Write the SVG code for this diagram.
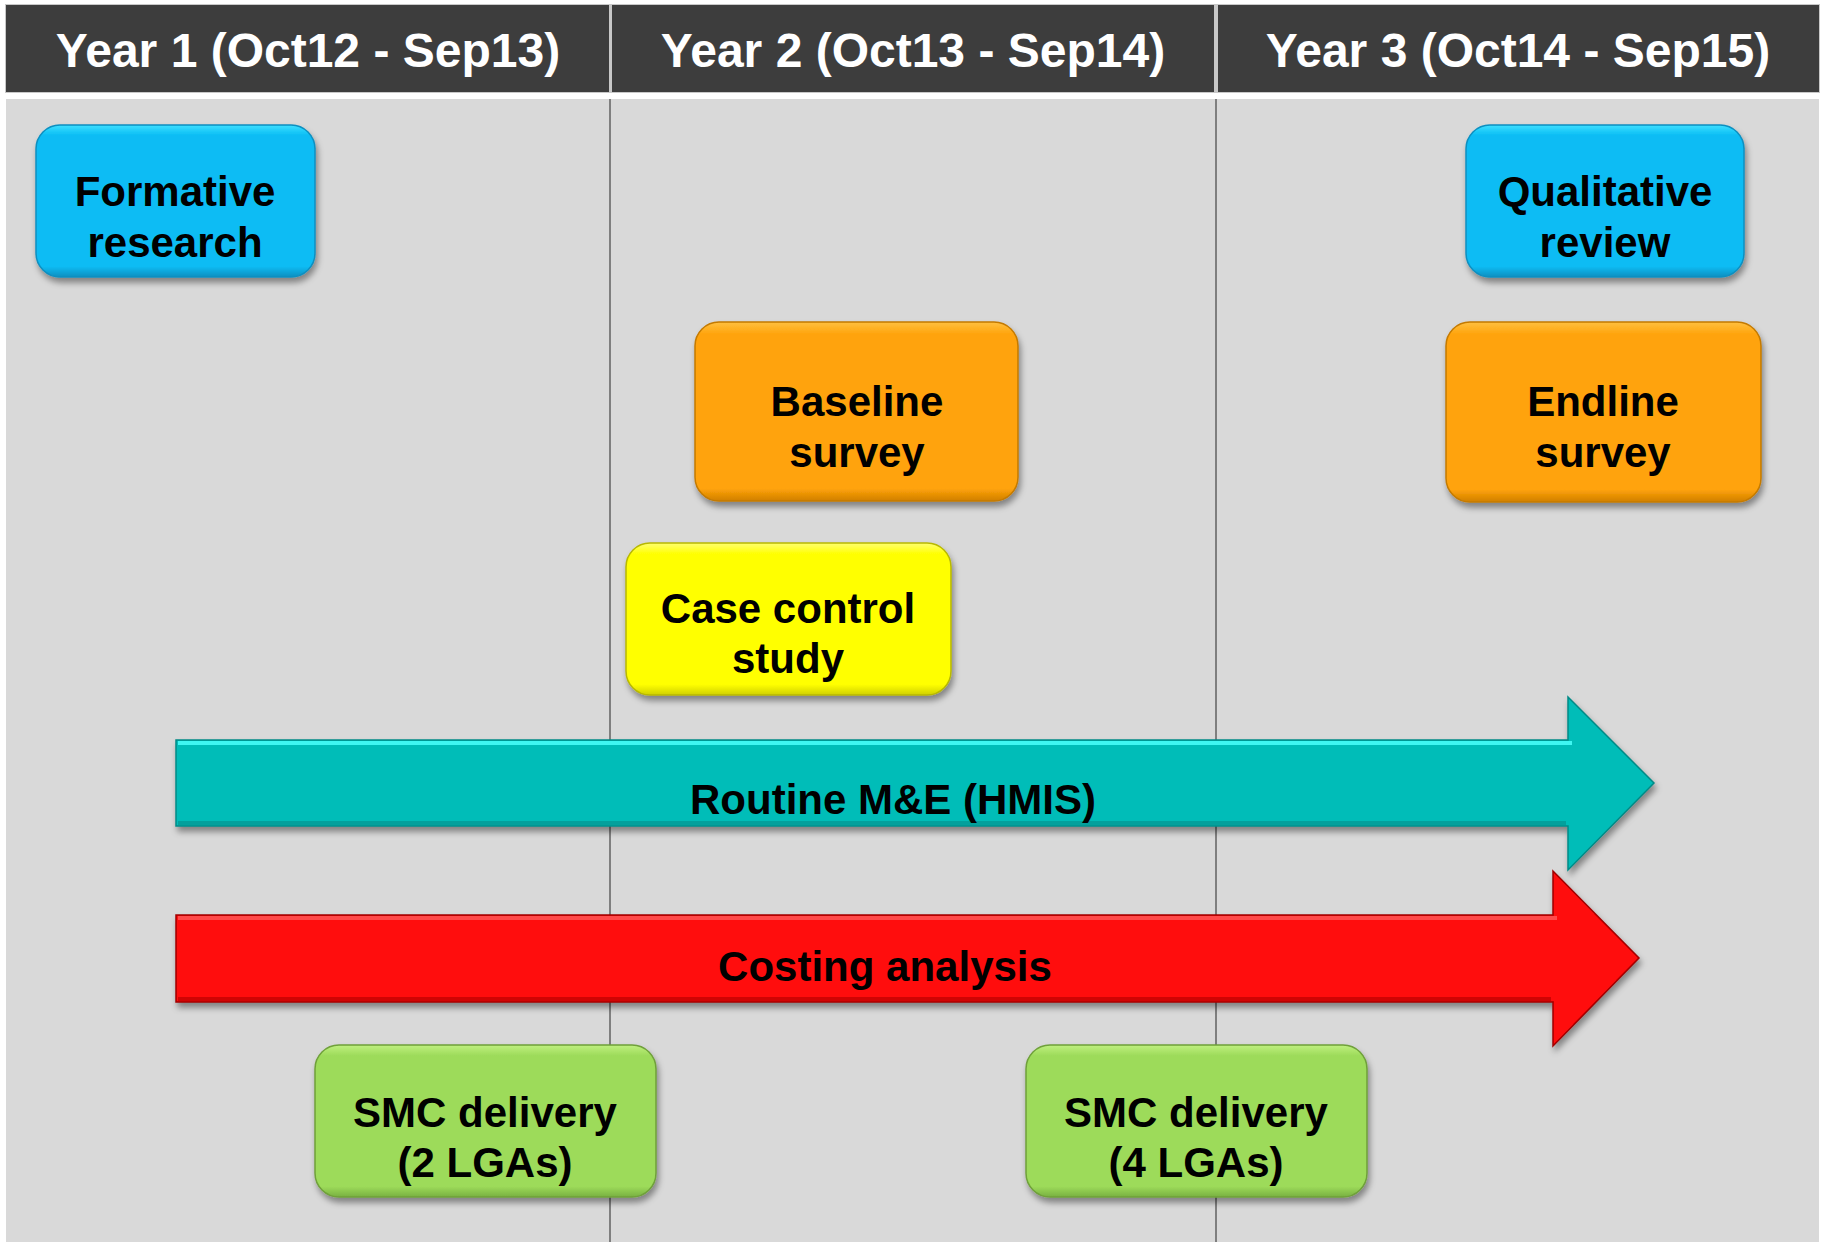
<svg xmlns="http://www.w3.org/2000/svg" width="1825" height="1243" viewBox="0 0 1825 1243">
<defs>
<style>
.hdr{fill:#3d3d3d;}
.hdrtxt{font-family:"Liberation Sans",Arial,sans-serif;font-weight:bold;font-size:48px;fill:#ffffff;text-anchor:middle;}
.lbl{font-family:"Liberation Sans",Arial,sans-serif;font-weight:bold;font-size:42px;fill:#000000;text-anchor:middle;}
.grid{stroke:#7f7f7f;stroke-width:2;}
.box{filter:url(#shadow);stroke-width:1.5;}
.hl{fill:none;stroke-width:4;stroke-linecap:butt;}
</style>
<filter id="shadow" x="-10%" y="-10%" width="125%" height="135%">
<feDropShadow dx="2" dy="5" stdDeviation="3" flood-color="#000" flood-opacity="0.4"/>
</filter>
<linearGradient id="gCyan" x1="0" y1="0" x2="0" y2="1">
<stop offset="0" stop-color="#3fe0ff"/><stop offset="0.07" stop-color="#08bcf4"/><stop offset="0.93" stop-color="#08bcf4"/><stop offset="1" stop-color="#0a8fc0"/>
</linearGradient>
<linearGradient id="gOrange" x1="0" y1="0" x2="0" y2="1">
<stop offset="0" stop-color="#ffc040"/><stop offset="0.07" stop-color="#ffa30a"/><stop offset="0.93" stop-color="#ffa30a"/><stop offset="1" stop-color="#d07f00"/>
</linearGradient>
<linearGradient id="gYellow" x1="0" y1="0" x2="0" y2="1">
<stop offset="0" stop-color="#ffff70"/><stop offset="0.07" stop-color="#ffff05"/><stop offset="0.93" stop-color="#ffff05"/><stop offset="1" stop-color="#d0d000"/>
</linearGradient>
<linearGradient id="gGreen" x1="0" y1="0" x2="0" y2="1">
<stop offset="0" stop-color="#c0f080"/><stop offset="0.07" stop-color="#9ddb5a"/><stop offset="0.93" stop-color="#9ddb5a"/><stop offset="1" stop-color="#78b040"/>
</linearGradient>
</defs>

<rect x="0" y="0" width="1825" height="1243" fill="#ffffff"/>

<g id="header">
<rect x="5" y="4" width="1815" height="89" fill="#c8c8c8"/>
<rect class="hdr" x="6" y="5" width="603" height="87"/>
<rect class="hdr" x="612" y="5" width="602" height="87"/>
<rect class="hdr" x="1218" y="5" width="601" height="87"/>
<text class="hdrtxt" x="308" y="67">Year 1 (Oct12 - Sep13)</text>
<text class="hdrtxt" x="913" y="67">Year 2 (Oct13 - Sep14)</text>
<text class="hdrtxt" x="1518" y="67">Year 3 (Oct14 - Sep15)</text>
</g>

<g id="body">
<rect x="6" y="99" width="1813" height="1143" fill="#d9d9d9"/>
<line class="grid" x1="610" y1="99" x2="610" y2="1242"/>
<line class="grid" x1="1216" y1="99" x2="1216" y2="1242"/>
</g>

<g id="connectors"></g>

<g id="formative-research">
<rect class="box" x="36" y="125" width="279" height="152" rx="24" fill="url(#gCyan)" stroke="#0a8fc0"/>
<text class="lbl" x="175" y="206">Formative</text>
<text class="lbl" x="175" y="257">research</text>
</g>

<g id="qualitative-review">
<rect class="box" x="1466" y="125" width="278" height="152" rx="24" fill="url(#gCyan)" stroke="#0a8fc0"/>
<text class="lbl" x="1605" y="206">Qualitative</text>
<text class="lbl" x="1605" y="257">review</text>
</g>

<g id="baseline-survey">
<rect class="box" x="695" y="322" width="323" height="179" rx="24" fill="url(#gOrange)" stroke="#c47a00"/>
<text class="lbl" x="857" y="416">Baseline</text>
<text class="lbl" x="857" y="467">survey</text>
</g>

<g id="endline-survey">
<rect class="box" x="1446" y="322" width="315" height="180" rx="24" fill="url(#gOrange)" stroke="#c47a00"/>
<text class="lbl" x="1603" y="416">Endline</text>
<text class="lbl" x="1603" y="467">survey</text>
</g>

<g id="case-control-study">
<rect class="box" x="626" y="543" width="325" height="152" rx="24" fill="url(#gYellow)" stroke="#b8b800"/>
<text class="lbl" x="788" y="623">Case control</text>
<text class="lbl" x="788" y="673">study</text>
</g>

<g id="routine-me-hmis">
<path class="box" d="M176,740 L1568,740 L1568,697 L1654,783 L1568,870 L1568,826 L176,826 Z" fill="#06bdb8" stroke="#058a86"/>
<path class="hl" d="M178,743 L1572,743" stroke="#3ff6f2"/>
<path class="hl" d="M178,823 L1566,823" stroke="#04a09c"/>
<text class="lbl" x="893" y="814">Routine M&amp;E (HMIS)</text>
</g>

<g id="costing-analysis">
<path class="box" d="M176,915 L1553,915 L1553,871 L1639,958 L1553,1046 L1553,1002 L176,1002 Z" fill="#ff0808" stroke="#a00000"/>
<path class="hl" d="M178,918 L1557,918" stroke="#ff4a4a"/>
<path class="hl" d="M178,999 L1551,999" stroke="#d00404"/>
<text class="lbl" x="885" y="981">Costing analysis</text>
</g>

<g id="smc-delivery-2">
<rect class="box" x="315" y="1045" width="341" height="152" rx="24" fill="url(#gGreen)" stroke="#6fa03a"/>
<text class="lbl" x="485" y="1127">SMC delivery</text>
<text class="lbl" x="485" y="1177">(2 LGAs)</text>
</g>

<g id="smc-delivery-4">
<rect class="box" x="1026" y="1045" width="341" height="152" rx="24" fill="url(#gGreen)" stroke="#6fa03a"/>
<text class="lbl" x="1196" y="1127">SMC delivery</text>
<text class="lbl" x="1196" y="1177">(4 LGAs)</text>
</g>
</svg>
